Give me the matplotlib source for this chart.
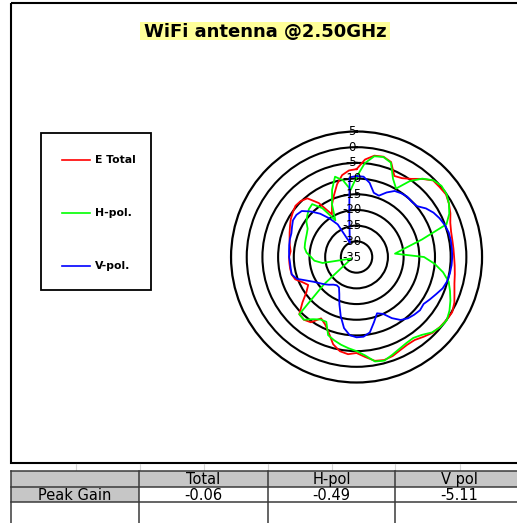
import numpy as np
import matplotlib
matplotlib.use("Agg")
import matplotlib.pyplot as plt
from matplotlib.patches import Rectangle
from matplotlib.transforms import offset_copy

# measured pattern, one point every 5 degrees, clockwise from top (dB)
angles_deg = np.arange(0, 360, 5)
e_total = [-7.0, -3.8, -2.2, -1.9, -2.8, -6.5, -6.0, -4.6, -2.5, -0.5,
           -0.4, -0.2, -1.0, -2.0, -3.2, -3.8, -4.0, -4.0, -3.9, -3.6,
           -3.2, -2.7, -1.8, -0.6, 0.2, 0.0, -0.3, -0.8, -1.8, -2.7,
           -2.7, -2.2, -1.4, -1.0, -1.4, -3.0, -4.4, -3.9, -4.5, -6.2,
           -9.2, -11.3, -12.4, -9.6, -8.9, -9.2, -12.5, -15.5, -17.2, -16.0,
           -14.2, -13.6, -13.5, -13.5, -13.5, -13.9, -13.4, -12.9, -12.3, -11.6,
           -10.8, -10.2, -9.6, -9.8, -10.6, -14.0, -19.3, -16.5, -14.0, -11.0,
           -8.5, -7.3]
h_pol = [-9.5, -5.0, -2.4, -2.0, -3.0, -7.5, -9.8, -5.5, -2.4, -0.4,
         0.3, 0.0, -1.0, -2.4, -4.5, -13.4, -19.5, -22.7, -13.5, -10.0,
         -7.0, -4.6, -3.3, -2.0, -0.8, 0.1, -0.2, -1.0, -2.6, -3.5,
         -3.3, -2.7, -1.8, -0.8, -1.2, -3.5, -5.0, -5.8, -6.6, -7.5,
         -8.5, -12.2, -12.0, -10.8, -8.9, -9.2, -21.4, -29.7, -31.8, -32.6,
         -33.2, -33.0, -24.0, -21.5, -20.5, -19.0, -18.2, -18.0, -17.8, -17.5,
         -17.0, -15.5, -14.5, -13.5, -13.0, -16.0, -21.5, -16.5, -12.2, -8.5,
         -10.2, -13.5]
v_pol = [-9.2, -9.3, -11.0, -13.8, -14.2, -12.3, -10.7, -10.2, -9.9, -10.1,
         -9.8, -8.0, -6.7, -5.8, -5.1, -4.6, -4.5, -4.5, -4.5, -4.6,
         -4.8, -5.1, -5.8, -7.0, -8.0, -8.9, -8.6, -9.0, -9.5, -10.5,
         -12.5, -15.0, -15.9, -13.5, -10.6, -9.5, -9.4, -10.0, -12.0, -15.5,
         -19.0, -22.0, -23.8, -24.0, -23.5, -22.5, -21.5, -20.5, -19.2, -17.3,
         -14.7, -13.6, -13.7, -13.7, -13.5, -13.4, -13.2, -13.0, -12.9, -12.3,
         -11.6, -11.6, -12.2, -14.5, -17.0, -20.0, -23.0, -30.0, -28.7, -26.4,
         -21.6, -9.5]

ring_values = [5, 0, -5, -10, -15, -20, -25, -30, -35]
series_names = ["E Total", "H-pol.", "V-pol."]
series_colors = ["#ff0000", "#00ff00", "#0000ff"]
col_headers = ["Total", "H-pol", "V pol"]
row_label = "Peak Gain"
peak_gain = ["-0.06", "-0.49", "-5.11"]
title = "WiFi antenna @2.50GHz"

fig = plt.figure(figsize=(5.17, 5.23), dpi=100)

# pixel-space overlay for frame, legend, title and table
bg = fig.add_axes([0, 0, 1, 1])
bg.set_xlim(0, 517)
bg.set_ylim(523, 0)
bg.axis("off")

# chart frame
bg.add_patch(Rectangle((11, 3), 520, 460, fill=False, ec="black", lw=1.5))

# title with yellow box
bg.add_patch(Rectangle((140, 22), 250, 18, fc="#ffff99", ec="none"))
bg.text(265, 31.5, title, ha="center", va="center", fontsize=13,
        fontweight="bold", family="DejaVu Sans")

# legend
bg.add_patch(Rectangle((41, 133), 110, 157, fill=False, ec="black", lw=1.3))
for i, (name, col) in enumerate(zip(series_names, series_colors)):
    yy = 160 + i * 53
    bg.plot([62, 90], [yy, yy], color=col, lw=1.2)
    bg.text(95, yy, name, ha="left", va="center", fontsize=7.8,
            fontweight="bold")

# table under the chart
line_c = "#3a3a3a"
for x in [76, 140, 204, 268, 332, 395, 460]:
    bg.plot([x, x], [464, 471], color="#d4d4d4", lw=0.8)
col_edges = [11, 139, 268, 395, 530]
bg.add_patch(Rectangle((11, 471), 520, 16, fc="#c6c6c6", ec="none"))
bg.add_patch(Rectangle((11, 487), 128, 15, fc="#c6c6c6", ec="none"))
for y in [471, 487, 502]:
    bg.plot([11, 517], [y, y], color=line_c, lw=1.1)
for x in col_edges[:-1]:
    bg.plot([x, x], [471, 523], color=line_c, lw=1.1)
for i, h in enumerate(col_headers):
    xc = (col_edges[i + 1] + col_edges[i + 2]) / 2 if i < 2 else 459
    bg.text(xc, 479.5, h, ha="center", va="center", fontsize=10.5)
    bg.text(xc, 495, peak_gain[i], ha="center", va="center", fontsize=10.5)
bg.text(75, 495, row_label, ha="center", va="center", fontsize=10.5)

# radar plot
ax = fig.add_axes([0.4469, 0.2686, 0.4855, 0.4800], projection="polar")
ax.set_theta_zero_location("N")
ax.set_theta_direction(-1)
ax.set_ylim(-35, 5)
ax.set_facecolor("none")

th = np.deg2rad(np.append(angles_deg, 360))
for vals, col in zip([e_total, h_pol, v_pol], series_colors):
    ax.plot(th, np.append(vals, vals[0]), color=col, lw=1.3)

ax.set_xticks([])
ax.set_yticks(ring_values[1:-1])
ax.set_yticklabels([])
ax.yaxis.grid(True, color="black", lw=1.5)
ax.xaxis.grid(False)
ax.spines["polar"].set_color("black")
ax.spines["polar"].set_linewidth(1.6)

lab_tr = offset_copy(ax.transData, fig=fig, x=-5, y=0, units="dots")
for v in ring_values:
    ax.text(0, v, str(v), transform=lab_tr, ha="center", va="center",
            fontsize=8.5)

fig.savefig("out.png", dpi=100)
